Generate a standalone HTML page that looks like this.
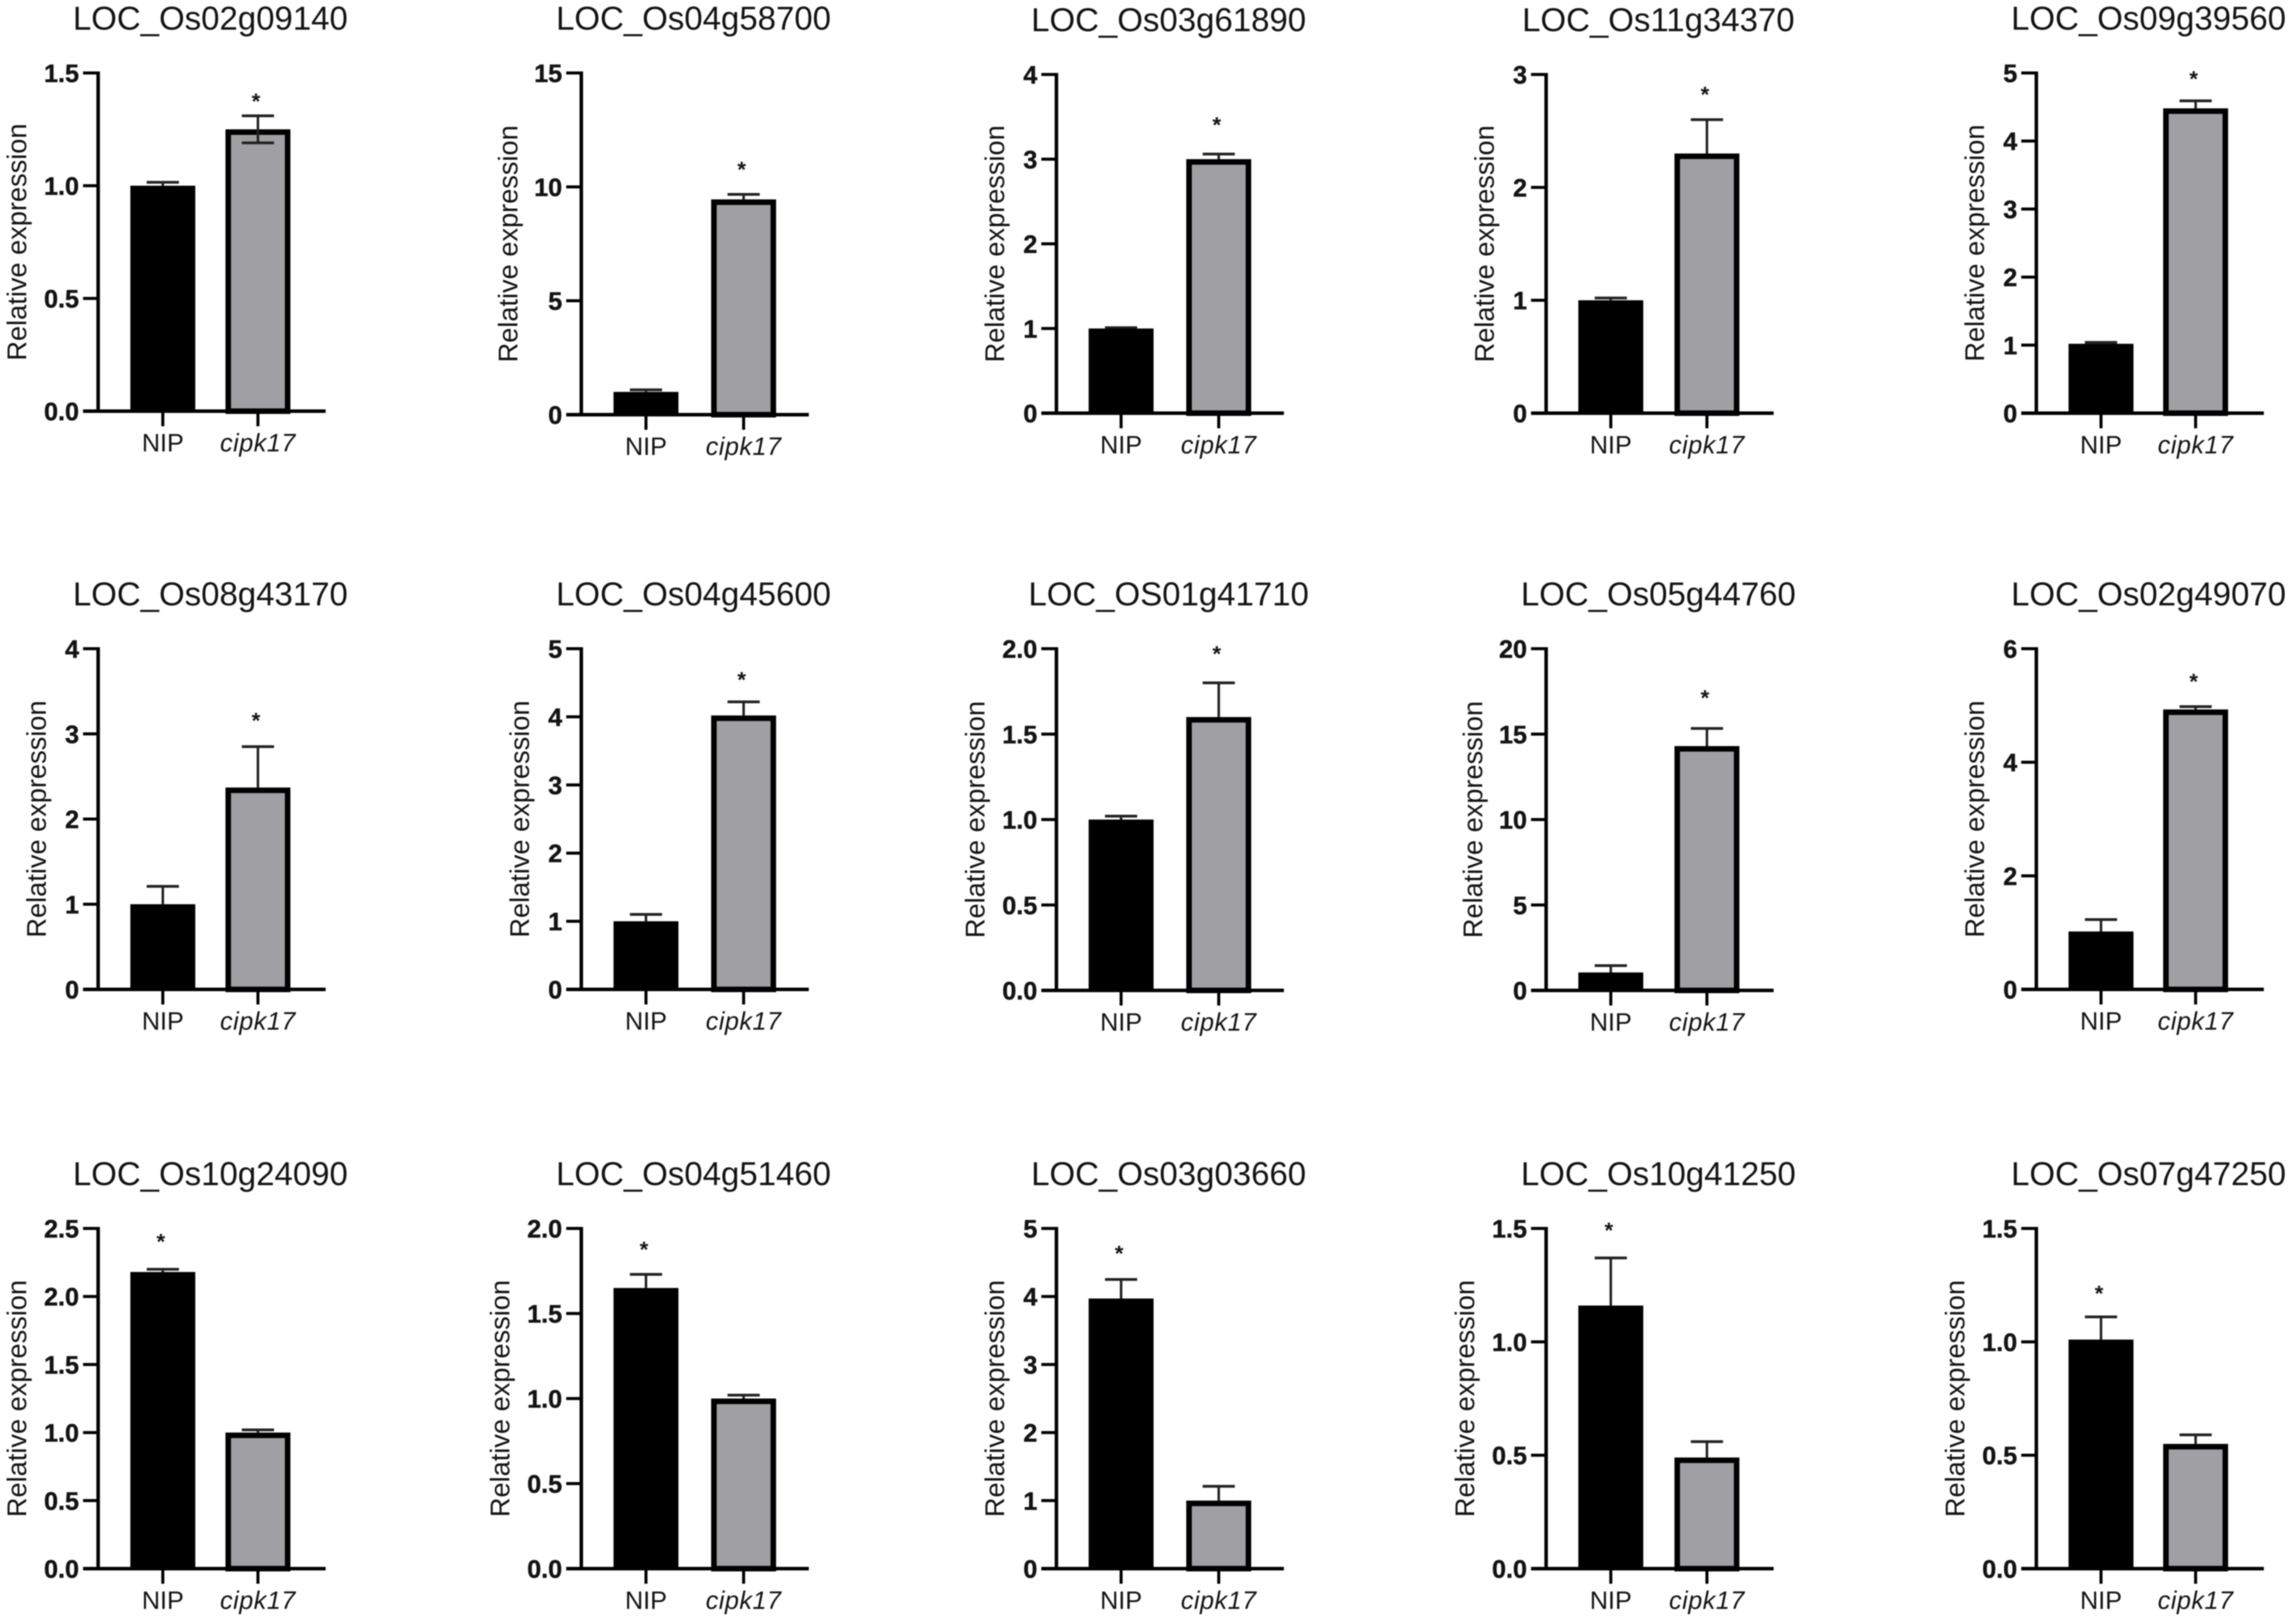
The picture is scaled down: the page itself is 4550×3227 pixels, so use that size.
<!DOCTYPE html>
<html lang="en">
<head>
<meta charset="utf-8">
<title>Relative expression of genes in NIP and cipk17</title>
<style>
html,body{margin:0;padding:0;background:#fff;width:4550px;height:3227px;overflow:hidden}
svg{display:block;filter:blur(1px)}
text{font-family:"Liberation Sans",Arial,sans-serif;fill:#141414}
</style>
</head>
<body>
<svg id="figure" xmlns="http://www.w3.org/2000/svg" width="4550" height="3227" viewBox="0 0 4550 3227">
<rect x="0" y="0" width="4550" height="3227" fill="#fff"/>
</svg>
<script>
const titles = ["LOC_Os02g09140","LOC_Os04g58700","LOC_Os03g61890","LOC_Os11g34370","LOC_Os09g39560",
  "LOC_Os08g43170","LOC_Os04g45600","LOC_OS01g41710","LOC_Os05g44760","LOC_Os02g49070",
  "LOC_Os10g24090","LOC_Os04g51460","LOC_Os03g03660","LOC_Os10g41250","LOC_Os07g47250"];
const categories = ["NIP","cipk17"];
const tickLabels = [
  ["0.0","0.5","1.0","1.5"],["0","5","10","15"],["0","1","2","3","4"],["0","1","2","3"],["0","1","2","3","4","5"],
  ["0","1","2","3","4"],["0","1","2","3","4","5"],["0.0","0.5","1.0","1.5","2.0"],["0","5","10","15","20"],["0","2","4","6"],
  ["0.0","0.5","1.0","1.5","2.0","2.5"],["0.0","0.5","1.0","1.5","2.0"],["0","1","2","3","4","5"],["0.0","0.5","1.0","1.5"],["0.0","0.5","1.0","1.5"]];
const nipValues  = [1.0,1.0,1.0,1.0,1.02, 1.0,1.0,1.0,1.05,1.02, 2.18,1.65,3.97,1.16,1.01];
const nipErrors  = [0.015,0.09,0.01,0.02,0.02, 0.21,0.1,0.02,0.4,0.21, 0.02,0.08,0.28,0.21,0.1];
const cipkValues = [1.25,9.45,3.0,2.3,4.48, 2.37,4.02,1.6,14.3,4.93, 1.0,1.0,1.0,0.49,0.55];
const cipkErrors = [0.06,0.22,0.06,0.3,0.11, 0.48,0.2,0.2,1.03,0.05, 0.02,0.02,0.21,0.07,0.04];
// index of the category that carries the significance star in each panel
const starCategory = [1,1,1,1,1, 1,1,1,1,1, 0,0,0,0,0];
// panels whose lower error cap is visible over the gray bar
const lowerCapPanels = [0];

const columnAxisX = [195,1155,2099,3072,4046];
const columnCipkShift = [-5,0,0,-3,-6];
const rowPlotTop = [[145,145,148,148,145],[1289,1289,1289,1289,1289],[2441,2441,2441,2441,2441]];
const rowPlotBottom = [[817,824,821,821,821],[1966,1966,1968,1968,1966],[3117,3117,3117,3117,3117]];
const starLift = [14,35,43,35,29, 37,29,43,46,35, 40,35,37,40,32];

const svg = document.getElementById('figure');
const NS = 'http://www.w3.org/2000/svg';

function add(parent, tag, attrs, content) {
  const el = document.createElementNS(NS, tag);
  for (const k in attrs) el.setAttribute(k, attrs[k]);
  if (content !== undefined) el.textContent = content;
  parent.appendChild(el);
  return el;
}

function drawPanel(i) {
  const col = i % 5, row = Math.floor(i / 5);
  const ax = columnAxisX[col], top = rowPlotTop[row][col], bottom = rowPlotBottom[row][col];
  const labels = tickLabels[i];
  const yMax = parseFloat(labels[labels.length - 1]);
  const yScale = v => bottom - (v / yMax) * (bottom - top);

  const g = add(svg, 'g', {});
  
  

  const title = add(g, 'text', {x: ax + 223, y: top - 86, 'text-anchor': 'middle', 'font-size': 65.5}, titles[i]);
  
  

  const maxLen = Math.max.apply(null, labels.map(s => s.length));
  const yTitleX = ax - (maxLen === 1 ? 104 : maxLen === 2 ? 127 : 143);
  const yMid = (top + bottom) / 2;
  const yTitle = add(g, 'text', {x: yTitleX, y: yMid, 'text-anchor': 'middle', 'font-size': 54,
    transform: 'rotate(-90 ' + yTitleX + ' ' + yMid + ')'}, 'Relative expression');
  
  

  // bars
  const values = [nipValues[i], cipkValues[i]];
  const errors = [nipErrors[i], cipkErrors[i]];
  const barLeft = [ax + 64, ax + 258 + columnCipkShift[col]];
  const barWidth = 129;
  const border = 11;
  categories.forEach((cat, c) => {
    const cx = barLeft[c] + barWidth / 2;
    const yv = yScale(values[c]);
    const yErr = yScale(values[c] + errors[c]);
    const yErrLow = yScale(values[c] - errors[c]);

    // error bar above the bar
    const stem = add(g, 'line', {x1: cx, x2: cx, y1: yv, y2: yErr, stroke: '#222', 'stroke-width': 5});
    
    
    const cap = add(g, 'line', {x1: cx - 32, x2: cx + 32, y1: yErr, y2: yErr, stroke: '#222', 'stroke-width': 5.5});
    
    

    let bar;
    if (c === 0) {
      bar = add(g, 'rect', {x: barLeft[c], y: yv, width: barWidth, height: bottom - yv, fill: '#000'});
    } else {
      bar = add(g, 'rect', {x: barLeft[c] + border / 2, y: yv + border / 2, width: barWidth - border, height: Math.max(0, bottom - yv - border / 2),
        fill: '#a0a0a4', stroke: '#000', 'stroke-width': border});
    }
    
    

    if (c === 1 && lowerCapPanels.indexOf(i) >= 0) {
      const low = add(g, 'line', {x1: cx, x2: cx, y1: yv, y2: yErrLow, stroke: '#222', 'stroke-width': 5});
      
      
      const lowCap = add(g, 'line', {x1: cx - 32, x2: cx + 32, y1: yErrLow, y2: yErrLow, stroke: '#222', 'stroke-width': 5.5});
      
      
    }

    if (starCategory[i] === c) {
      const star = add(g, 'text', {x: cx - 4, y: yErr - starLift[i], 'text-anchor': 'middle', 'font-size': 44, 'font-weight': 'bold'}, '*');
      
      
    }

    const tick = add(g, 'line', {x1: cx, x2: cx, y1: bottom, y2: bottom + 30, stroke: '#000', 'stroke-width': 6});
    
    

    const lab = add(g, 'text', {x: cx, y: bottom + 80, 'text-anchor': 'middle', 'font-size': 50,
      'font-style': c === 1 ? 'italic' : 'normal', 'letter-spacing': c === 1 ? 1 : 0}, cat);
    
    
  });

  // y axis, ticks, labels
  const yAxis = add(g, 'line', {x1: ax, x2: ax, y1: top - 3, y2: bottom + 3, stroke: '#000', 'stroke-width': 7});
  
  
  const xAxis = add(g, 'line', {x1: ax - 30, x2: ax + 452, y1: bottom, y2: bottom, stroke: '#000', 'stroke-width': 7});
  
  

  labels.forEach(label => {
    const v = parseFloat(label);
    const ty = yScale(v);
    const tick = add(g, 'line', {x1: ax - 30, x2: ax, y1: ty, y2: ty, stroke: '#000', 'stroke-width': 6});
    
    
    const text = add(g, 'text', {x: ax - 38, y: ty + 18, 'text-anchor': 'end', 'font-size': 50, 'font-weight': 'bold',
      stroke: '#141414', 'stroke-width': 0.8}, label);
    
    
  });
}

titles.forEach((t, i) => drawPanel(i));
</script>
</body>
</html>
